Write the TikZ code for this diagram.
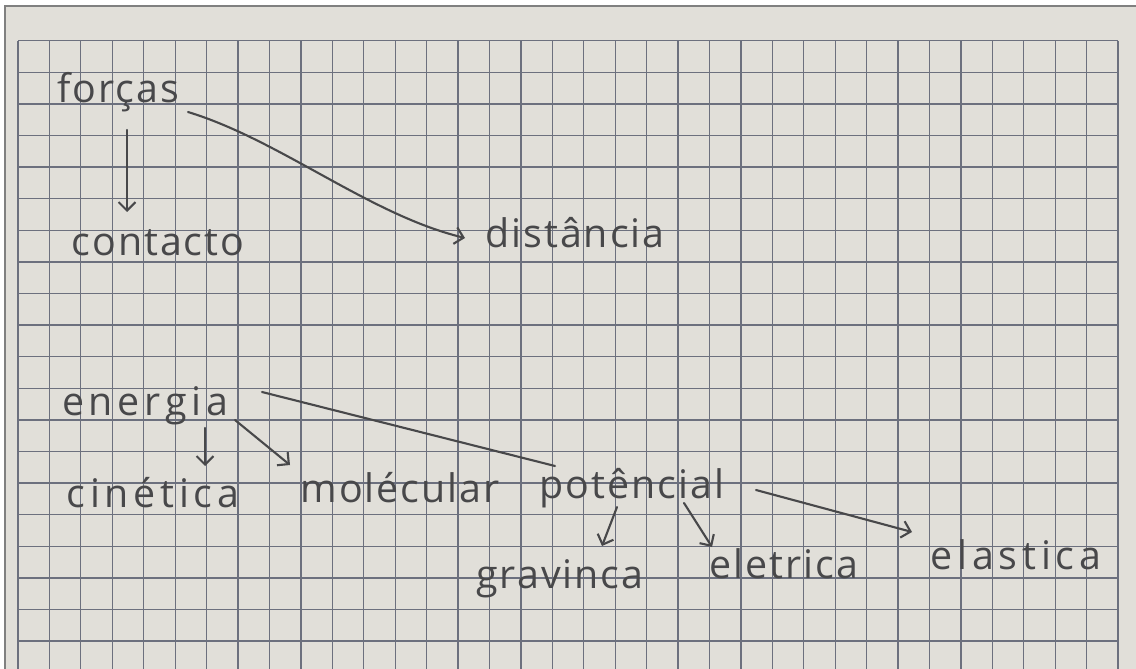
\documentclass[tikz,border=0pt]{standalone}
\usepackage{fontspec}
\setmainfont{Open Sans}[LetterSpace=5]
\usetikzlibrary{calc,arrows.meta}
\definecolor{paper}{RGB}{225,223,217}
\definecolor{gridc}{RGB}{108,112,126}
\definecolor{ink}{RGB}{72,72,74}
\tikzset{
  word/.style={anchor=base,inner sep=2pt,text=ink,font=\fontsize{28}{30}\selectfont},
  wideword/.style={word,font=\fontsize{28}{30}\selectfont\addfontfeatures{LetterSpace=12}},
  pen/.style={draw=ink,line width=1.5pt,line cap=round},
  arr/.style={pen,-{Straight Barb[length=6pt,width=12pt]}},
  gridline/.style={draw=gridc,line width=0.9pt}
}

\begin{document}
\begin{tikzpicture}[x=0.025cm,y=-0.025cm]
\useasboundingbox (0,0) rectangle (1136,669);
\fill[white] (0,0) rectangle (1136,669);
\fill[paper] (5,6) rectangle (1136,669);
\draw[gray,line width=1pt] (5,669) -- (5,6) -- (1136,6);
\foreach \i in {0,...,35}{
  \pgfmathsetmacro\gx{18+31.43*\i}
  \draw[gridline] (\gx,40.7) -- (\gx,669);
}
\foreach \j in {0,...,19}{
  \pgfmathsetmacro\gy{40.7+31.6*\j}
  \draw[gridline] (18,\gy) -- (1118,\gy);
}

\node[word] (forcas) at (118,103) {forças};
\node[word] (contacto) at (158,256) {contacto};
\node[word] (distancia) at (575,247) {distância};
\node[wideword] (energia) at (145,415) {energia};
\node[wideword] (cinetica) at (153,507) {cinética};
\node[word] (molecular) at (400,502) {molécular};
\node[word] (potencial) at (632,498) {potêncial};
\node[word] (gravinca) at (560,588) {gravinca};
\node[word] (eletrica) at (784,578) {eletrica};
\node[wideword] (elastica) at (1016,569) {elastica};

\draw[arr] ($(forcas.base)+(9,27)$) -- ($(contacto.base)+(-31,-44)$);
\draw[arr] ($(forcas.base)+(70,9)$) .. controls +(92,28) and +(-95,-23) .. ($(distancia.base)+(-110,-9)$);
\draw[arr] ($(energia.base)+(60,13)$) -- ($(cinetica.base)+(52,-41)$);
\draw[arr] ($(energia.base)+(90,5)$) -- ($(molecular.base)+(-110,-37)$);
\draw[pen] ($(energia.base)+(117,-23)$) -- ($(potencial.base)+(-77,-32)$);
\draw[arr] ($(potencial.base)+(-15,9)$) -- ($(gravinca.base)+(42,-42)$);
\draw[arr] ($(potencial.base)+(52,5)$) -- ($(eletrica.base)+(-72,-31)$);
\draw[arr] ($(potencial.base)+(124,-8)$) -- ($(elastica.base)+(-104,-37)$);
\end{tikzpicture}
\end{document}
